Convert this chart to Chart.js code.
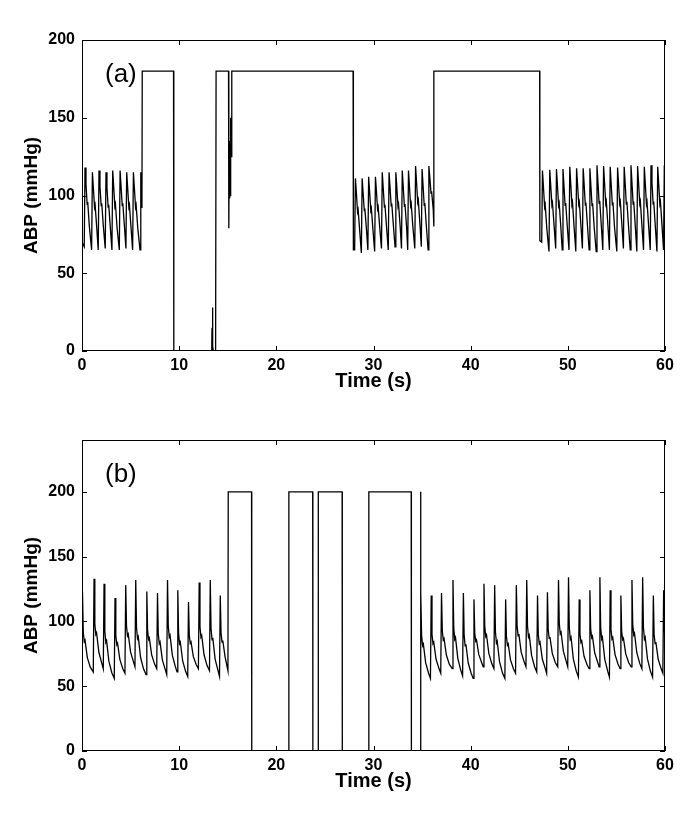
<!DOCTYPE html>
<html>
<head>
<meta charset="utf-8">
<script src="https://cdn.jsdelivr.net/npm/chart.js@4.4.1/dist/chart.umd.min.js"></script>
<style>
  html, body { margin: 0; padding: 0; background: #fff; }
  .panel { position: absolute; left: 0; width: 685px; height: 400px; }
  #panelA { top: 0; }
  #panelB { top: 400px; }
</style>
</head>
<body>
<div class="panel" id="panelA"><canvas id="chartA"></canvas></div>
<div class="panel" id="panelB"><canvas id="chartB"></canvas></div>
<script>
// axis ticks
const xTicks = [0, 10, 20, 30, 40, 50, 60];
const yTicksA = [0, 50, 100, 150, 200];
const yTicksB = [0, 50, 100, 150, 200];

// panel (a) pulsatile stretches: peak times (s), systolic peaks, trough before each beat (+ trailing value)
const aLeadT = [0];
const aLeadV = [70];
const a1Peak = [0.31, 1.07, 1.75, 2.47, 3.16, 3.92, 4.60, 5.29, 6.05];
const a1Sys  = [118, 115, 116, 115, 116, 116, 115, 115, 115];
const a1Dia  = [67, 65, 65, 66, 65, 65, 66, 65, 65, 92];
const a1End = 6.17;

// panel (a) artefact between stretch 1 and 2
const aGap1T = [6.20, 9.42, 9.45, 13.35, 13.38, 13.41, 13.45, 13.48, 13.52, 13.75, 13.80, 15.08, 15.11, 15.15, 15.18, 15.22, 15.26, 15.30, 15.35, 15.40, 15.43, 27.90, 27.93];
const aGap1V = [180, 180, 0, 0, 15, 0, 28, 3, 0, 0, 180, 180, 79, 130, 98, 135, 100, 150, 125, 161, 180, 180, 65];

const a2Peak = [28.14, 28.83, 29.50, 30.20, 30.90, 31.60, 32.30, 32.96, 33.60, 34.33, 35.00, 35.70];
const a2Sys  = [111, 111, 112, 112, 115, 115, 115, 116, 116, 119, 117, 119];
const a2Dia  = [65, 63, 65, 64, 66, 65, 67, 66, 65, 66, 67, 65, 80];
const a2End = 36.20;

const aGap2T = [36.22, 47.10, 47.12];
const aGap2V = [180, 180, 71];

const a3Peak = [47.39, 48.14, 48.83, 49.50, 50.20, 50.90, 51.58, 52.27, 53.00, 53.68, 54.36, 55.12, 55.80, 56.50, 57.18, 57.87, 58.56, 59.25, 59.93];
const a3Sys  = [116, 116.5, 117, 117, 118.5, 117.5, 117.5, 117.5, 119.5, 119, 118.5, 118, 118.5, 119.5, 119, 118.5, 119.5, 118.5, 119.5];
const a3Dia  = [70, 64, 66, 65, 65, 64, 66, 65, 64, 65, 65, 64, 66, 65, 64, 65, 65, 64, 65, 65];
const a3End = 60.3;

// panel (b)
const b1Peak = [0.05, 1.24, 2.27, 3.40, 4.50, 5.53, 6.67, 7.77, 8.80, 9.86, 10.96, 12.06, 13.20, 14.23];
const b1Sys  = [122.5, 133, 129, 118, 128, 132, 123, 122, 132, 124, 115, 130, 132, 120];
const b1Dia  = [60, 61, 63.5, 56, 60, 65, 59, 63.5, 59, 61, 57.5, 63.5, 62, 57.5, 62];
const b1End = 15.02;

const bGapT = [15.05, 17.45, 17.47, 21.27, 21.29, 23.74, 23.76, 24.30, 24.32, 26.77, 26.79, 29.50, 29.52, 33.88, 33.90, 34.83, 34.85];
const bGapV = [200, 200, 0, 0, 200, 200, 0, 0, 200, 200, 0, 0, 200, 200, 0, 0, 200];

const b2Peak = [34.87, 35.94, 37.00, 38.18, 39.25, 40.34, 41.37, 42.47, 43.60, 44.70, 45.77, 46.88, 47.90, 49.04, 50.07, 51.17, 52.27, 53.30, 54.36, 55.46, 56.60, 57.70, 58.80, 59.86];
const b2Sys  = [122.5, 120, 122, 132, 122, 117, 129, 128, 117, 128, 132, 120, 122.5, 132, 134, 117, 124, 134, 124, 120, 132, 134, 120, 124];
const b2Dia  = [null, 56, 60, 63.5, 58, 56, 65, 63.5, 56, 60, 65, 61, 60, 65, 65, 57, 63.5, 65, 57, 63.5, 65, 63.5, 57, 60, 62];
const b2End = 60.3;

// beat outline after the peak: [s after peak, fraction of pulse height above next trough]
const shapeA = [[0.10, 0.80], [0.22, 0.55], [0.28, 0.58], [0.45, 0.28]];
const shapeB = [[0.08, 0.50], [0.18, 0.38], [0.26, 0.40], [0.50, 0.18], [0.80, 0.06]];
const upstroke = 0.08;

function pairs(T, V) {
    return T.map((t, i) => ({x: t, y: V[i]}));
}

function beats(peaks, sys, dia, end, shape) {
    const pts = [];
    peaks.forEach((p, i) => {
        if (dia[i] !== null) pts.push({x: p - upstroke, y: dia[i]});
        pts.push({x: p, y: sys[i]});
        const base = dia[i + 1];
        const next = i + 1 < peaks.length ? peaks[i + 1] - upstroke : end;
        shape.forEach(([dt, f]) => {
            if (p + dt < next) pts.push({x: p + dt, y: base + f * (sys[i] - base)});
        });
        if (i === peaks.length - 1) pts.push({x: end, y: base});
    });
    return pts;
}

const seriesA = [
    ...pairs(aLeadT, aLeadV),
    ...beats(a1Peak, a1Sys, a1Dia, a1End, shapeA),
    ...pairs(aGap1T, aGap1V),
    ...beats(a2Peak, a2Sys, a2Dia, a2End, shapeA),
    ...pairs(aGap2T, aGap2V),
    ...beats(a3Peak, a3Sys, a3Dia, a3End, shapeA)
];
const seriesB = [
    ...beats(b1Peak, b1Sys, b1Dia, b1End, shapeB),
    ...pairs(bGapT, bGapV),
    ...beats(b2Peak, b2Sys, b2Dia, b2End, shapeB)
];

Chart.defaults.font.family = "'Liberation Sans', Arial, sans-serif";
Chart.defaults.color = '#000';

// matlab style box with inward ticks and panel letter
const boxTicks = {
    id: 'boxTicks',
    afterDraw(chart, args, opts) {
        const {ctx, chartArea: a, scales: {x, y}} = chart;
        ctx.save();
        ctx.strokeStyle = '#000';
        ctx.lineWidth = 1;
        ctx.strokeRect(a.left + 0.5, a.top + 0.5, a.right - a.left - 1, a.bottom - a.top - 1);
        ctx.beginPath();
        x.ticks.forEach(t => {
            const px = Math.round(x.getPixelForValue(t.value)) + 0.5;
            ctx.moveTo(px, a.bottom); ctx.lineTo(px, a.bottom - 5);
            ctx.moveTo(px, a.top); ctx.lineTo(px, a.top + 5);
        });
        y.ticks.forEach(t => {
            const py = Math.round(y.getPixelForValue(t.value)) + 0.5;
            ctx.moveTo(a.left, py); ctx.lineTo(a.left + 5, py);
            ctx.moveTo(a.right, py); ctx.lineTo(a.right - 5, py);
        });
        ctx.stroke();
        ctx.fillStyle = '#000';
        ctx.font = "26px 'Liberation Sans', Arial, sans-serif";
        ctx.textBaseline = 'middle';
        ctx.fillText(opts.label, a.left + 23, a.top + 35);
        ctx.restore();
    }
};

function makeChart(id, data, yMax, yTicks, label) {
    return new Chart(document.getElementById(id), {
        type: 'line',
        data: {
            datasets: [{
                data: data,
                borderColor: '#000',
                borderWidth: 1.3,
                pointRadius: 0,
                tension: 0,
                fill: false
            }]
        },
        options: {
            responsive: true,
            maintainAspectRatio: false,
            animation: false,
            layout: {padding: {top: 40, right: 20, left: 0, bottom: 0}},
            plugins: {legend: {display: false}, tooltip: {enabled: false}, boxTicks: {label: label}},
            scales: {
                x: {
                    type: 'linear', min: 0, max: 60,
                    grid: {display: false, drawTicks: false},
                    border: {display: false},
                    afterBuildTicks: s => { s.ticks = xTicks.map(v => ({value: v})); },
                    afterFit: s => { s.height = 49; },
                    ticks: {font: {size: 16, weight: 'bold'}, padding: 5, maxRotation: 0, autoSkip: false},
                    title: {display: true, text: 'Time (s)', font: {size: 20, weight: 'bold'}, padding: {top: 0, bottom: 7}}
                },
                y: {
                    min: 0, max: yMax,
                    grid: {display: false, drawTicks: false},
                    border: {display: false},
                    afterBuildTicks: s => { s.ticks = yTicks.map(v => ({value: v})); },
                    afterFit: s => { s.width = 82; },
                    ticks: {font: {size: 16, weight: 'bold'}, padding: 7},
                    title: {display: true, text: 'ABP (mmHg)', font: {size: 19, weight: 'bold'}, padding: {top: 20, bottom: 0}}
                }
            }
        },
        plugins: [boxTicks]
    });
}

makeChart('chartA', seriesA, 200, yTicksA, '(a)');
makeChart('chartB', seriesB, 240, yTicksB, '(b)');
</script>
</body>
</html>
